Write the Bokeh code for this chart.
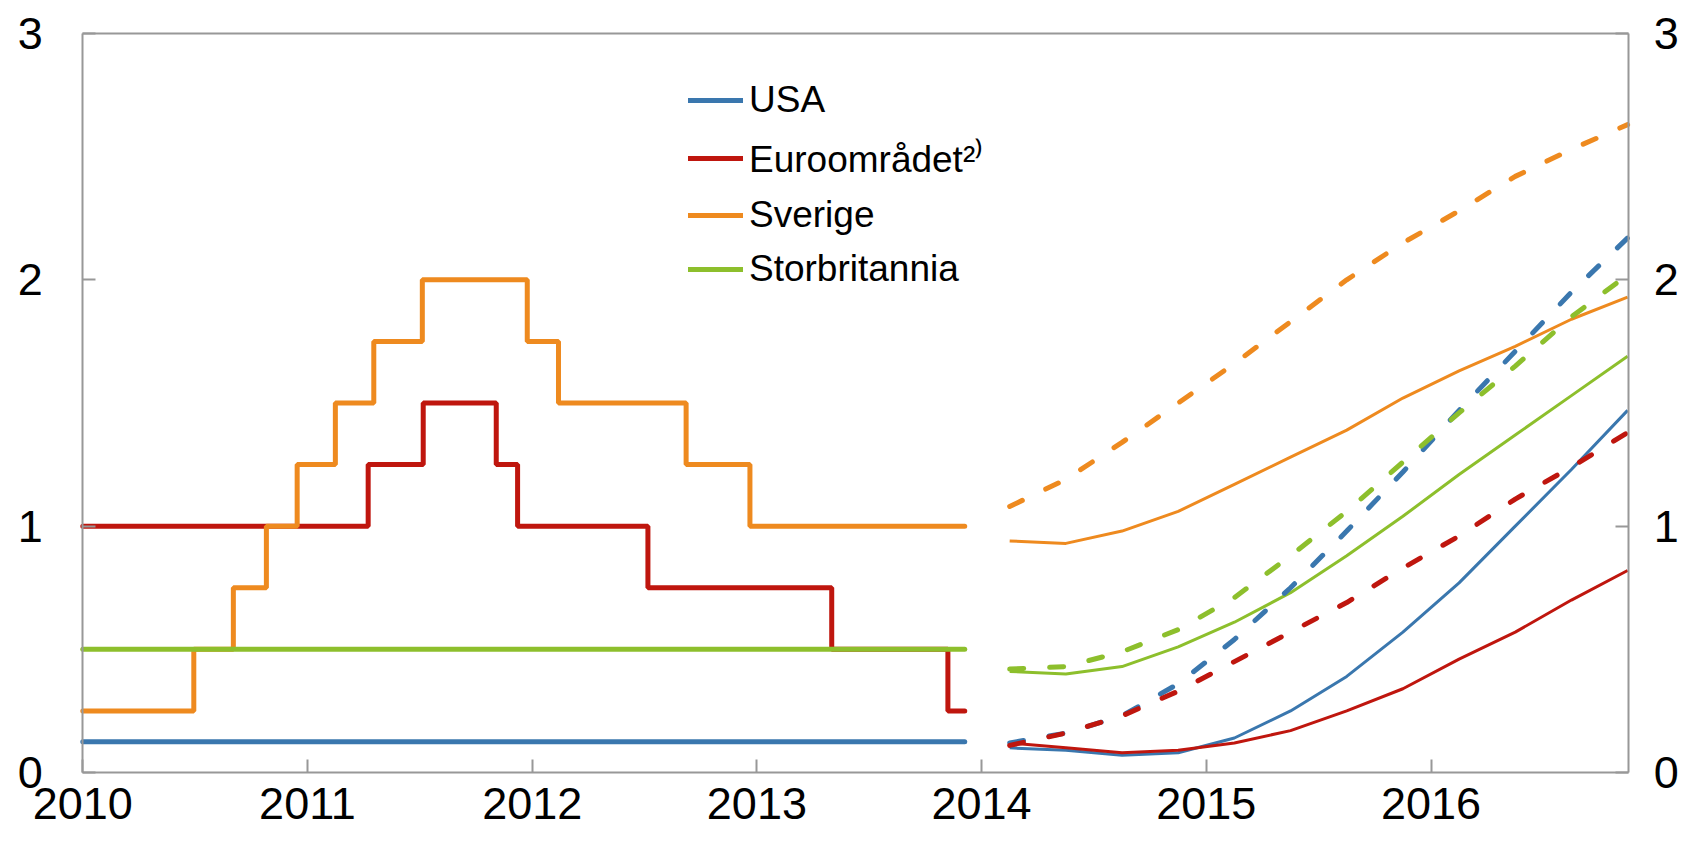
from bokeh.plotting import figure
from bokeh.models import Range1d, LinearAxis, FixedTicker, Legend, LegendItem
from bokeh.embed import file_html
from bokeh.resources import INLINE

# ---------------- data ----------------
year_ticks = [2010, 2011, 2012, 2013, 2014, 2015, 2016]
rate_ticks = [0, 1, 2, 3]

# policy rates (step series): dates of change and new level
usa_dates = [2010.0]
usa_rates = [0.125]
euro_dates = [2010.0, 2011.27, 2011.515, 2011.84, 2011.935, 2012.515, 2013.333, 2013.85]
euro_rates = [1.0, 1.25, 1.5, 1.25, 1.0, 0.75, 0.5, 0.25]
swe_dates = [2010.0, 2010.494, 2010.67, 2010.817, 2010.954, 2011.124, 2011.295, 2011.511,
             2011.978, 2012.117, 2012.685, 2012.969]
swe_rates = [0.25, 0.5, 0.75, 1.0, 1.25, 1.5, 1.75, 2.0, 1.75, 1.5, 1.25, 1.0]
uk_dates = [2010.0]
uk_rates = [0.5]
hist_end = 2013.925

# forward rates (quarterly)
fwd_dates = [2014.125, 2014.375, 2014.625, 2014.875, 2015.125, 2015.375,
             2015.625, 2015.875, 2016.125, 2016.375, 2016.625, 2016.875]
usa_new = [0.10, 0.09, 0.07, 0.08, 0.14, 0.25, 0.39, 0.57, 0.77, 1.00, 1.23, 1.47]
usa_old = [0.12, 0.16, 0.23, 0.36, 0.54, 0.75, 0.98, 1.22, 1.47, 1.71, 1.95, 2.17]
euro_new = [0.12, 0.10, 0.08, 0.09, 0.12, 0.17, 0.25, 0.34, 0.46, 0.57, 0.70, 0.82]
euro_old = [0.11, 0.16, 0.23, 0.33, 0.45, 0.57, 0.69, 0.83, 0.96, 1.11, 1.24, 1.38]
swe_new = [0.94, 0.93, 0.98, 1.06, 1.17, 1.28, 1.39, 1.52, 1.63, 1.73, 1.84, 1.93]
swe_old = [1.08, 1.19, 1.34, 1.50, 1.66, 1.83, 2.00, 2.15, 2.28, 2.42, 2.53, 2.63]
uk_new = [0.41, 0.40, 0.43, 0.51, 0.61, 0.73, 0.88, 1.04, 1.21, 1.37, 1.53, 1.69]
uk_old = [0.42, 0.43, 0.49, 0.58, 0.71, 0.88, 1.06, 1.26, 1.46, 1.65, 1.85, 2.02]

labels = ["USA", "Euroområdet\u00b2\u207e", "Sverige", "Storbritannia"]
colors = ["#3A77AE", "#BF160E", "#EE8A1F", "#8DBF2C"]

# axis extent (data) and view extent (whole canvas)
x_start, x_end = 2010.0, 2016.88
y_start, y_end = 0.0, 3.0
W, H = 1680, 832
px_per_year = 224.7
px_per_unit = 246.3
left_px, top_px, bottom_px = 82.3, 33.0, 772.0
view_x0 = x_start - left_px / px_per_year
view_x1 = x_start + (W - left_px) / px_per_year
view_y0 = y_start - (H - bottom_px) / px_per_unit
view_y1 = y_end + top_px / px_per_unit

GRAY = "#989898"
FONT = "Liberation Sans"

p = figure(width=W, height=H, output_backend="svg", toolbar_location=None,
           x_range=Range1d(view_x0, view_x1), y_range=Range1d(view_y0, view_y1),
           x_axis_location=None, y_axis_location=None, min_border=0)
p.xgrid.grid_line_color = None
p.ygrid.grid_line_color = None
p.outline_line_color = None
p.background_fill_color = "white"
p.border_fill_color = "white"


def steps(dates, rates):
    return list(dates) + [hist_end], list(rates) + [rates[-1]]


hist = [(usa_dates, usa_rates), (euro_dates, euro_rates), (swe_dates, swe_rates), (uk_dates, uk_rates)]
leg_items = []
for (d, r), c, lab in zip(hist, colors, labels):
    xs, ys = steps(d, r)
    rr = p.step(xs, ys, mode="after", line_color=c, line_width=5, line_cap="round")
    leg_items.append(LegendItem(label=lab, renderers=[rr]))

for ys, c in zip([usa_new, euro_new, swe_new, uk_new], colors):
    p.line(fwd_dates, ys, line_color=c, line_width=3)
for ys, c in zip([usa_old, euro_old, swe_old, uk_old], colors):
    p.line(fwd_dates, ys, line_color=c, line_width=5, line_dash="14 26", line_cap="round")


def style_axis(ax, standoff):
    ax.axis_line_color = GRAY
    ax.axis_line_width = 2
    ax.major_tick_line_color = GRAY
    ax.major_tick_line_width = 2
    ax.major_tick_in = 13
    ax.major_tick_out = 0
    ax.minor_tick_line_color = None
    ax.major_label_text_font = FONT
    ax.major_label_text_font_size = "45px"
    ax.major_label_text_color = "black"
    ax.major_label_standoff = standoff


xax = LinearAxis(ticker=FixedTicker(ticks=year_ticks), fixed_location=y_start,
                 bounds=(x_start, x_end))
style_axis(xax, 16)
p.add_layout(xax, "below")

tax = LinearAxis(ticker=FixedTicker(ticks=[]), fixed_location=y_end, bounds=(x_start, x_end))
style_axis(tax, 0)
tax.major_label_text_font_size = "0px"
p.add_layout(tax, "above")

lax = LinearAxis(ticker=FixedTicker(ticks=rate_ticks), fixed_location=x_start,
                 bounds=(y_start, y_end))
style_axis(lax, 40)
p.add_layout(lax, "left")
rax = LinearAxis(ticker=FixedTicker(ticks=rate_ticks), fixed_location=x_end,
                 bounds=(y_start, y_end))
style_axis(rax, 25)
p.add_layout(rax, "right")

legend = Legend(items=leg_items, location=(688, 541),
                background_fill_alpha=0, border_line_color=None,
                label_text_font=FONT, label_text_font_size="37px", label_text_color="black",
                glyph_width=55, glyph_height=44, label_height=44, spacing=10,
                padding=0, margin=0, label_standoff=6)
p.add_layout(legend)

open("out.html", "w").write(file_html(p, INLINE))
